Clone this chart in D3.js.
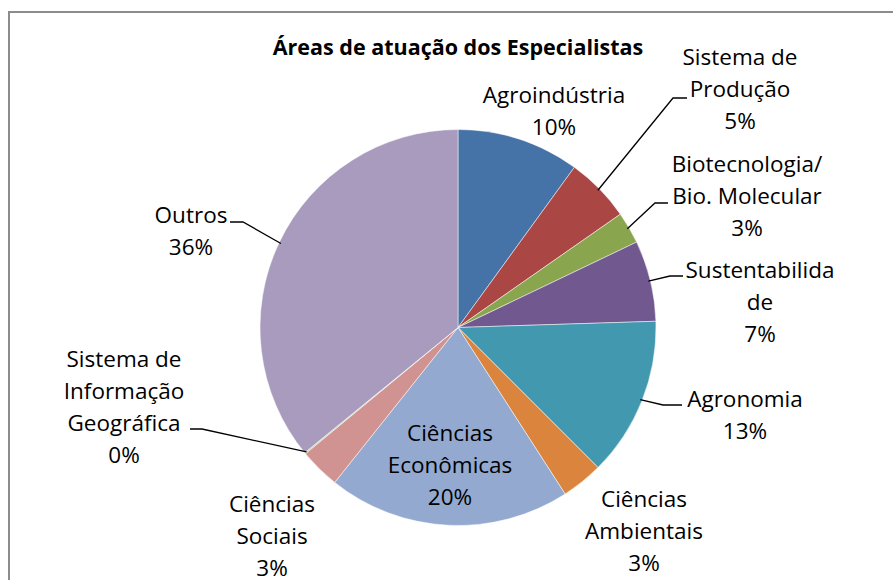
<!doctype html>
<html>
<head>
<meta charset="UTF-8">
<title>Áreas de atuação</title>
<script src="https://d3js.org/d3.v7.min.js"></script>
<style>
  body { margin: 0; background: #fff; }
  text { font-family: "Open Sans", Lato, sans-serif; fill: #000; }
</style>
</head>
<body>
<script>
// data (share of specialists, %)
var categories = ["Agroindústria", "Sistema de Produção", "Biotecnologia/ Bio. Molecular",
                  "Sustentabilidade", "Agronomia", "Ciências Ambientais", "Ciências Econômicas",
                  "Ciências Sociais", "Sistema de Informação Geográfica", "Outros"];
var values = [10.0, 5.3, 2.6, 6.6, 13.0, 3.4, 19.8, 3.3, 0.1, 35.9];
var labelLines = [["Agroindústria"], ["Sistema de", "Produção"], ["Biotecnologia/", "Bio. Molecular"],
                  ["Sustentabilida", "de"], ["Agronomia"], ["Ciências", "Ambientais"],
                  ["Ciências", "Econômicas"], ["Ciências", "Sociais"],
                  ["Sistema de", "Informação", "Geográfica"], ["Outros"]];
var colors = ["#4572A7", "#AA4643", "#89A54E", "#71588F", "#4198AF", "#DB843D",
              "#93A9CF", "#D19392", "#B9CD96", "#A99BBD"];

// label layout: centre x, baseline of first line
var labelAt = [[554, 103], [740, 65], [747, 172], [760, 278], [745, 407], [644, 507],
               [450, 441], [272, 512], [124, 367], [191, 223]];
// leader lines: [elbow x, end x, y] (null = no leader)
var leaders = [null, [673, 687, 98], [655, 668, 203], [670, 683, 276], [663, 682, 405],
               null, null, null, [202, 190, 429], [243, 230, 222]];

var W = 893, H = 580, cx = 458, cy = 327.5, R = 198, lineH = 32;

var svg = d3.select("body").append("svg").attr("width", W).attr("height", H);

svg.append("path")
  .attr("d", "M9,600 V12 H893")
  .attr("fill", "none").attr("stroke", "#8c8c8c").attr("stroke-width", 2);

svg.append("text")
  .attr("x", 458).attr("y", 55)
  .attr("text-anchor", "middle")
  .style("font-weight", "bold").style("font-size", "21.5px")
  .text("Áreas de atuação dos Especialistas");

var pie = d3.pie().sort(null).value(function(d){ return d; });
var arcs = pie(values);
var arc = d3.arc().innerRadius(0).outerRadius(R);
var edge = d3.arc().innerRadius(R - 2).outerRadius(R - 2);

var g = svg.append("g").attr("transform", "translate(" + cx + "," + cy + ")");

g.selectAll("path.slice").data(arcs).enter().append("path")
  .attr("class", "slice")
  .attr("d", arc)
  .attr("fill", function(d, i){ return colors[i]; })
  .attr("stroke", "#fff").attr("stroke-width", 0.5);

arcs.forEach(function(d, i){
  var L = leaders[i];
  if (L) {
    var p = edge.centroid(d);
    svg.append("polyline")
      .attr("points", [[p[0] + cx, p[1] + cy], [L[0], L[2]], [L[1], L[2]]].join(" "))
      .attr("fill", "none").attr("stroke", "#000").attr("stroke-width", 1.3);
  }
  var lines = labelLines[i].concat([Math.round(d.value / d3.sum(values) * 100) + "%"]);
  var t = svg.append("text")
    .attr("text-anchor", "middle")
    .style("font-size", "22.5px");
  lines.forEach(function(s, k){
    t.append("tspan").attr("x", labelAt[i][0]).attr("y", labelAt[i][1] + k * lineH).text(s);
  });
});
</script>
</body>
</html>
